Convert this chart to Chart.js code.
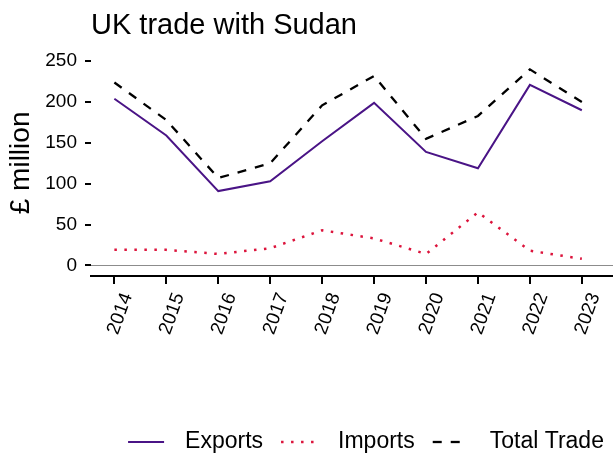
<!DOCTYPE html>
<html>
<head>
<meta charset="utf-8">
<script src="https://cdn.jsdelivr.net/npm/chart.js@4.4.0/dist/chart.umd.min.js"></script>
<style>
	body { margin: 0; background: #fff; }
</style>
</head>
<body>
<canvas id="myChart" width="613" height="455"></canvas>
<script>
const years = [2014, 2015, 2016, 2017, 2018, 2019, 2020, 2021, 2022, 2023];
const exportsData = [204, 159, 91, 103, 152, 199, 139, 119, 221, 190];
const importsData = [19, 19, 14, 21, 43, 33, 14, 65, 18, 8];
const totalData = [224, 178, 107, 125, 196, 232, 155, 183, 240, 200];
const yTicks = [0, 50, 100, 150, 200, 250];

const FONT = "'Liberation Sans', Arial, sans-serif";

const toPoints = (values) => values.map((v, i) => ({ x: years[i], y: v }));

// grey line at zero
const zeroLine = {
	id: 'zeroLine',
	beforeDatasetsDraw(chart) {
		const { ctx, chartArea, scales } = chart;
		const y = Math.round(scales.y.getPixelForValue(0)) + 0.5;
		ctx.save();
		ctx.strokeStyle = '#8c8c8c';
		ctx.lineWidth = 1;
		ctx.beginPath();
		ctx.moveTo(chartArea.left, y);
		ctx.lineTo(chart.width, y);
		ctx.stroke();
		ctx.restore();
	},
};

// legend with line samples under the plot
const lineLegend = {
	id: 'lineLegend',
	afterDraw(chart) {
		const ctx = chart.ctx;
		const sample = 36;
		const gap = 21;
		const spacing = 18;
		const centerX = 366;
		const y = 442;
		ctx.save();
		ctx.font = '23px ' + FONT;
		const items = chart.data.datasets.map((ds) => ({
			ds: ds,
			w: ctx.measureText(ds.label).width,
		}));
		let total = 0;
		items.forEach((it, i) => {
			total += sample + gap + it.w + (i > 0 ? spacing : 0);
		});
		let x = centerX - total / 2;
		items.forEach((it) => {
			ctx.strokeStyle = it.ds.borderColor;
			ctx.lineWidth = it.ds.borderWidth;
			ctx.setLineDash(it.ds.borderDash || []);
			ctx.beginPath();
			ctx.moveTo(x, y);
			ctx.lineTo(x + sample, y);
			ctx.stroke();
			ctx.setLineDash([]);
			ctx.fillStyle = '#000';
			ctx.textBaseline = 'middle';
			ctx.fillText(it.ds.label, x + sample + gap, y);
			x += sample + gap + it.w + spacing;
		});
		ctx.restore();
	},
};

new Chart(document.getElementById('myChart'), {
	type: 'line',
	data: {
		datasets: [
			{
				label: 'Exports',
				data: toPoints(exportsData),
				borderColor: '#4a1486',
				borderWidth: 2,
				pointRadius: 0,
			},
			{
				label: 'Imports',
				data: toPoints(importsData),
				borderColor: '#dc143c',
				borderWidth: 2.5,
				borderDash: [2.5, 7.5],
				pointRadius: 0,
			},
			{
				label: 'Total Trade',
				data: toPoints(totalData),
				borderColor: '#000000',
				borderWidth: 2.3,
				borderDash: [9, 9],
				pointRadius: 0,
			},
		],
	},
	options: {
		responsive: false,
		animation: false,
		devicePixelRatio: 1,
		layout: { padding: { top: 0, left: 0, right: 0, bottom: 79 } },
		plugins: {
			legend: { display: false },
			tooltip: { enabled: false },
			title: {
				display: true,
				text: 'UK trade with Sudan',
				align: 'start',
				fullSize: false,
				color: '#000',
				font: { family: FONT, size: 29, weight: 'normal' },
				padding: { top: 9, bottom: 6 },
			},
		},
		scales: {
			x: {
				type: 'linear',
				min: 2013.55,
				max: 2023.6,
				afterBuildTicks: (s) => {
					s.ticks = years.map((v) => ({ value: v }));
				},
				afterFit: (s) => {
					s.height = 100;
				},
				grid: {
					drawOnChartArea: false,
					drawTicks: true,
					tickLength: 8,
					color: '#000',
					lineWidth: 2,
				},
				border: { display: true, color: '#000', width: 2 },
				ticks: {
					autoSkip: false,
					minRotation: 70,
					maxRotation: 70,
					labelOffset: 13,
					padding: 6,
					color: '#000',
					font: { family: FONT, size: 19 },
					callback: (v) => String(v),
				},
			},
			y: {
				min: -13,
				max: 264,
				afterBuildTicks: (s) => {
					s.ticks = yTicks.map((v) => ({ value: v }));
				},
				afterFit: (s) => {
					s.width = 91;
				},
				grid: {
					drawOnChartArea: false,
					drawTicks: true,
					tickLength: 6,
					color: '#000',
					lineWidth: 2,
				},
				border: { display: false },
				ticks: {
					padding: 8,
					color: '#000',
					font: { family: FONT, size: 19 },
				},
				title: {
					display: true,
					text: '£ million',
					color: '#000',
					font: { family: FONT, size: 28 },
					padding: { top: 4, bottom: 0 },
				},
			},
		},
	},
	plugins: [zeroLine, lineLegend],
});
</script>
</body>
</html>
